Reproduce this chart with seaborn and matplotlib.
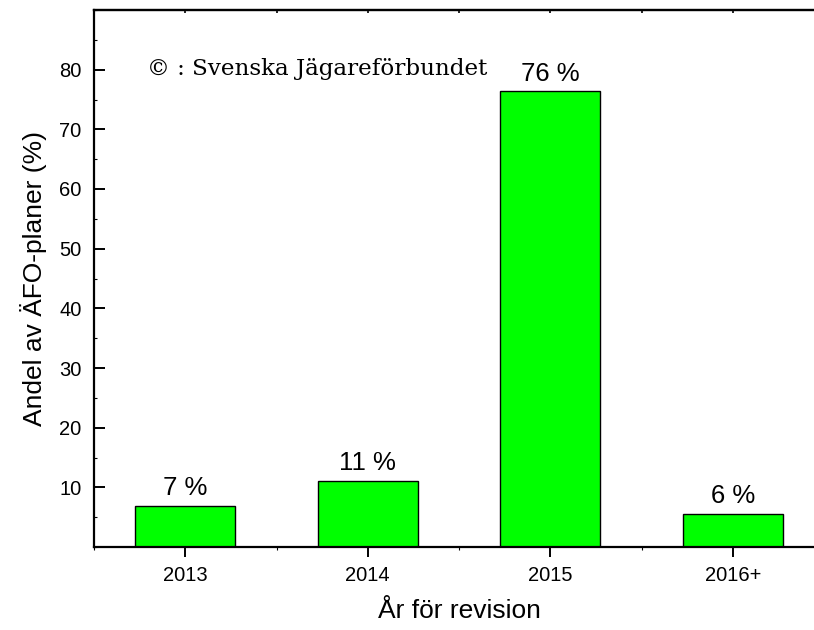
import pandas as pd
import seaborn as sns
from matplotlib import pyplot as plt
from matplotlib.ticker import MultipleLocator

sns.set_style("ticks")
plt.rcParams['font.family'] = ['Liberation Sans', 'DejaVu Sans']
plt.rcParams['text.color'] = 'black'
plt.rcParams['axes.labelcolor'] = 'black'
plt.rcParams['xtick.color'] = 'black'
plt.rcParams['ytick.color'] = 'black'

years = ['2013', '2014', '2015', '2016+']
shares = [6.9, 11.1, 76.4, 5.6]
bar_labels = [f"{round(v)} %" for v in shares]
ytick_vals = [10, 20, 30, 40, 50, 60, 70, 80]

out_file = 'out.png'


def main():
    df = pd.DataFrame({'year': years, 'share': shares})

    fig = plt.figure(figsize=(8.14, 6.3), dpi=100)
    # right edge sits just outside the canvas, like the original
    ax = fig.add_axes([94/814, 1-547/630, 730/814, 537/630])

    sns.barplot(data=df, x='year', y='share', color='#00ff00', saturation=1,
                edgecolor='black', linewidth=1.0, width=0.55, ax=ax)

    ax.set_xlim(-0.5, 3.5)
    ax.set_ylim(0, 90)
    ax.set_yticks(ytick_vals)
    ax.yaxis.set_minor_locator(MultipleLocator(5))
    ax.xaxis.set_minor_locator(MultipleLocator(0.5))

    for side in ['left', 'bottom', 'top', 'right']:
        ax.spines[side].set_linewidth(1.6)
        ax.spines[side].set_color('black')

    ax.tick_params(axis='y', which='major', direction='in', length=8, width=1.4,
                   labelsize=14.5, pad=9, right=False)
    ax.tick_params(axis='y', which='minor', direction='in', length=2, width=0.8)
    ax.tick_params(axis='x', which='major', direction='out', length=7.5, width=1.4,
                   labelsize=14.5, pad=6, top=False)
    ax.tick_params(axis='x', which='minor', direction='out', length=2, width=0.8)

    # small ticks on the top, longer ticks on the right
    top = ax.secondary_xaxis('top')
    top.set_xticks([0, 0.5, 1, 1.5, 2, 2.5, 3])
    top.tick_params(direction='in', length=2.5, width=1.2, labeltop=False)
    top.spines['top'].set_linewidth(1.6)
    right = ax.secondary_yaxis('right')
    right.set_yticks(ytick_vals)
    right.tick_params(direction='in', length=7.5, width=1.4, labelright=False)

    ax.bar_label(ax.containers[0], labels=bar_labels, padding=4, fontsize=18.5)

    ax.set_xlabel('År för revision', fontsize=19, labelpad=10)
    ax.set_ylabel('Andel av ÄFO-planer (%)', fontsize=19, labelpad=9)

    fig.text(147/814, 1-75/630, '© : Svenska Jägareförbundet',
             fontsize=16.6, family=['DejaVu Serif'], va='baseline')

    fig.savefig(out_file, dpi=100)


if __name__ == "__main__":
    main()
